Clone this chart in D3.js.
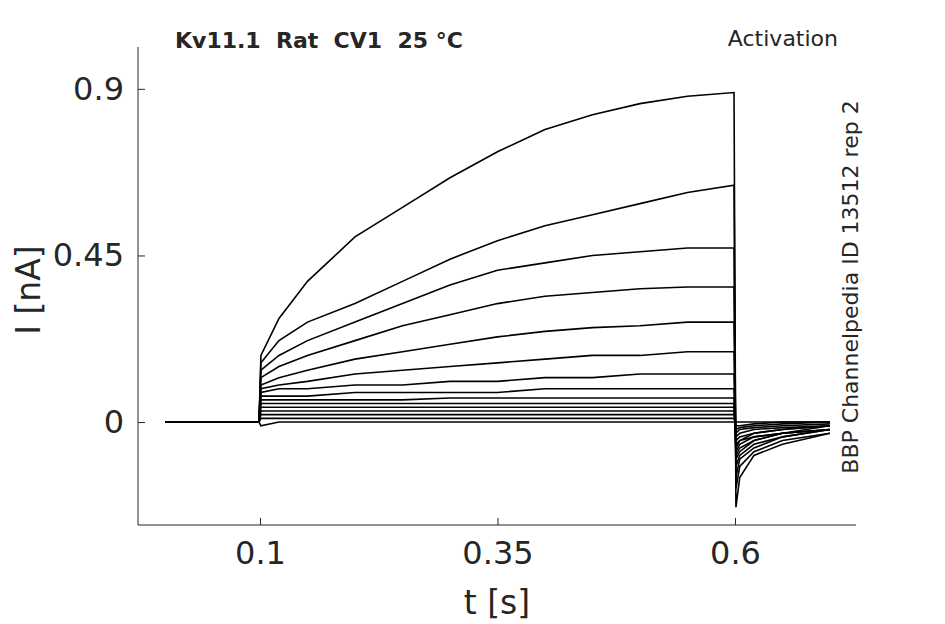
<!DOCTYPE html>
<html><head><meta charset="utf-8">
<script src="https://cdn.jsdelivr.net/npm/d3@7"></script>
<style>body{margin:0;background:#fff}text{font-family:"DejaVu Sans",sans-serif;fill:#262626;white-space:pre}</style>
</head><body><svg id="svg" width="945" height="624"></svg>
<script>
const xTicks = [0.1, 0.35, 0.6];
const yTicks = [0, 0.45, 0.9];
const times = [0, 0.099, 0.101, 0.12, 0.15, 0.2, 0.25, 0.3, 0.35, 0.4, 0.45, 0.5, 0.55, 0.599, 0.601, 0.605, 0.62, 0.65, 0.7];
const traces = [
  [0, 0, 0.18, 0.28, 0.38, 0.5, 0.58, 0.66, 0.73, 0.79, 0.83, 0.86, 0.88, 0.89, -0.23, -0.15, -0.09, -0.06, -0.03],
  [0, 0, 0.16, 0.22, 0.27, 0.32, 0.38, 0.44, 0.49, 0.53, 0.56, 0.59, 0.62, 0.64, -0.18, -0.12, -0.08, -0.05, -0.03],
  [0, 0, 0.14, 0.18, 0.22, 0.27, 0.32, 0.37, 0.41, 0.43, 0.45, 0.46, 0.47, 0.47, -0.15, -0.1, -0.07, -0.04, -0.02],
  [0, 0, 0.12, 0.15, 0.18, 0.22, 0.26, 0.29, 0.32, 0.34, 0.35, 0.36, 0.365, 0.365, -0.12, -0.09, -0.06, -0.04, -0.02],
  [0, 0, 0.1, 0.12, 0.14, 0.17, 0.19, 0.21, 0.23, 0.245, 0.255, 0.26, 0.27, 0.27, -0.1, -0.08, -0.05, -0.03, -0.02],
  [0, 0, 0.09, 0.1, 0.11, 0.13, 0.14, 0.15, 0.16, 0.17, 0.18, 0.18, 0.19, 0.19, -0.09, -0.07, -0.05, -0.03, -0.02],
  [0, 0, 0.08, 0.09, 0.09, 0.1, 0.1, 0.11, 0.11, 0.12, 0.12, 0.13, 0.13, 0.13, -0.08, -0.06, -0.04, -0.03, -0.02],
  [0, 0, 0.07, 0.07, 0.07, 0.08, 0.08, 0.08, 0.08, 0.09, 0.09, 0.09, 0.09, 0.09, -0.07, -0.05, -0.04, -0.03, -0.01],
  [0, 0, 0.06, 0.06, 0.06, 0.06, 0.06, 0.065, 0.065, 0.065, 0.065, 0.065, 0.065, 0.065, -0.06, -0.05, -0.03, -0.02, -0.01],
  [0, 0, 0.05, 0.05, 0.05, 0.05, 0.05, 0.05, 0.05, 0.05, 0.05, 0.05, 0.05, 0.05, -0.05, -0.04, -0.03, -0.02, -0.01],
  [0, 0, 0.04, 0.04, 0.04, 0.04, 0.04, 0.04, 0.04, 0.04, 0.04, 0.04, 0.04, 0.04, -0.04, -0.03, -0.02, -0.015, -0.01],
  [0, 0, 0.03, 0.03, 0.03, 0.03, 0.03, 0.03, 0.03, 0.03, 0.03, 0.03, 0.03, 0.03, -0.03, -0.02, -0.015, -0.01, -0.005],
  [0, 0, 0.02, 0.02, 0.02, 0.02, 0.02, 0.02, 0.02, 0.02, 0.02, 0.02, 0.02, 0.02, -0.02, -0.015, -0.01, -0.005, 0],
  [0, 0, 0.01, 0.01, 0.01, 0.01, 0.01, 0.01, 0.01, 0.01, 0.01, 0.01, 0.01, 0.01, -0.01, -0.01, -0.005, 0, 0],
  [0, 0, -0.01, 0, 0, 0, 0, 0, 0, 0, 0, 0, 0, 0, 0, 0, 0, 0, 0]
];

const svg = d3.select("#svg");
const x = d3.scaleLinear().domain([-0.0284, 0.7274]).range([138, 856]);
const y = d3.scaleLinear().domain([-0.278, 1.013]).range([525, 47]);

const line = d3.line().x((d, i) => x(times[i])).y((d) => y(d));
svg.append("g").selectAll("path").data(traces).enter().append("path")
  .attr("d", line).attr("fill", "none").attr("stroke", "#000").attr("stroke-width", 1.6);

const xAxis = svg.append("g").attr("transform", "translate(0,525)")
  .call(d3.axisBottom(x).tickValues(xTicks).tickFormat(d3.format("")).tickSizeInner(-7).tickSizeOuter(0).tickPadding(16));
const yAxis = svg.append("g").attr("transform", "translate(138,0)")
  .call(d3.axisLeft(y).tickValues(yTicks).tickFormat((d) => d === 0 ? "0" : d).tickSizeInner(-7).tickSizeOuter(0).tickPadding(14));
[xAxis, yAxis].forEach((a) => {
  a.selectAll("path,line").attr("stroke", "#262626");
  a.selectAll("text").style("font-size", "32px").attr("fill", "#262626");
});
xAxis.select(".domain").attr("d", "M138,0H856");
yAxis.select(".domain").attr("d", "M0,47V525");

svg.append("text").attr("x", 497).attr("y", 614).attr("text-anchor", "middle").style("font-size", "33px").text("t [s]");
svg.append("text").attr("transform", "translate(40,290) rotate(-90)").attr("text-anchor", "middle").style("font-size", "33px").text("I [nA]");
svg.append("text").attr("x", 175).attr("y", 48).style("font-size", "22px").style("font-weight", "bold").attr("fill", "#000").text("Kv11.1  Rat  CV1  25 °C");
svg.append("text").attr("x", 838).attr("y", 46).attr("text-anchor", "end").style("font-size", "22px").attr("fill", "#000").text("Activation");
svg.append("text").attr("transform", "translate(858,287) rotate(-90)").attr("text-anchor", "middle").style("font-size", "22px").attr("fill", "#000").text("BBP Channelpedia ID 13512 rep 2");
</script></body></html>
